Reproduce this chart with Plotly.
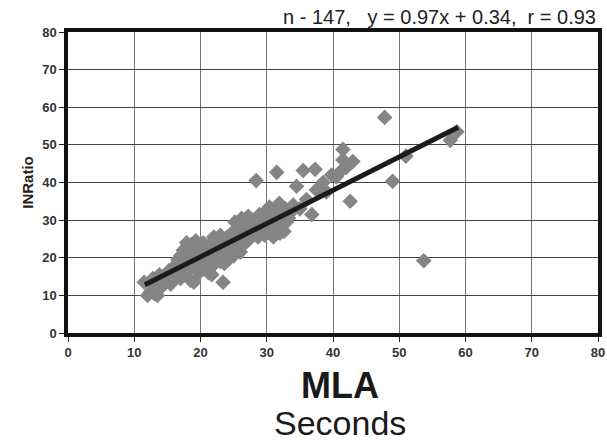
import plotly.graph_objects as go

mla = [11.5, 12, 12.5, 12.8, 13, 13.2, 13.5, 13.8, 14, 14.3, 14.8, 15, 15.2, 15.5, 15.8, 16, 16.2, 16.4, 16.6, 16.8,
       17, 17, 17.2, 17.4, 17.5, 17.7, 17.9, 18, 18, 18.2, 18.4, 18.5, 18.6, 18.8, 19, 19, 19.2, 19.3, 19.5, 19.6,
       19.8, 20, 20, 20.2, 20.4, 20.5, 20.7, 20.9, 21, 21.2, 21.3, 21.5, 21.7, 21.8, 22, 22, 22.2, 22.4, 22.6, 22.8,
       23, 23, 23.2, 23.4, 23.5, 23.6, 23.8, 24, 24, 24.2, 24.4, 24.5, 24.7, 25, 25, 25.2, 25.3, 25.5, 25.7, 25.9,
       26, 26, 26.2, 26.4, 26.6, 26.8, 27, 27, 27.2, 27.4, 27.6, 27.8, 28, 28.2, 28.4, 28.5, 28.7, 28.9, 29.1, 29.3,
       29.5, 29.7, 29.9, 30, 30.2, 30.4, 30.6, 30.8, 31, 31, 31.2, 31.5, 31.5, 31.7, 31.9, 32, 32.2, 32.4, 32.6, 32.8,
       33, 33.3, 33.6, 34, 34.5, 35, 35.5, 36, 36.8, 37.3, 37.5, 38, 38.5, 39, 39.8, 40.5, 41, 41.5, 41.5, 42,
       42.6, 43, 47.8, 49, 51, 53.7, 57.7, 58.7]
inratio = [13.5, 10, 11, 14.5, 10.5, 12.5, 10, 15.5, 12, 13.5, 15, 14, 16.5, 13, 17, 15, 18, 15, 19.5, 16,
           20.5, 14.5, 17.5, 22, 15.5, 19, 24, 16.5, 20, 22.5, 18, 14, 23.5, 19.5, 13.5, 21, 17, 24.5, 22, 18.5,
           16, 20, 23, 19, 24, 17.5, 21.5, 18, 22.5, 16, 20.5, 23.5, 15.5, 19.5, 25.5, 21, 18.5, 22.5, 20, 24,
           19, 26, 21.5, 13.5, 23, 18.5, 20.5, 25.5, 22, 19.5, 23.5, 21, 26.5, 24, 20.5, 29.5, 22.5, 27, 25, 23,
           28, 21.5, 30.5, 25.5, 27.5, 24, 29, 26.5, 31, 25, 28.5, 30, 26, 27.5, 40.5, 29.5, 25.5, 31.5, 27, 28.5,
           30.5, 26, 32.5, 28, 29.5, 33.5, 27, 31, 25.5, 29, 32, 42.7, 27.5, 30.5, 34.5, 26.5, 28.5, 31.5, 27, 33,
           29.5, 30.5, 32, 34, 39, 33, 43.2, 35.5, 31.5, 43.5, 38, 38.7, 40, 37.5, 42, 41.5, 42.7, 48.8, 46, 44,
           35, 45.6, 57.3, 40.3, 47, 19.2, 51.2, 53.5]

fit_x = [11.6, 58.9]
fit_y = [12.8, 54.7]

x_ticks = [0, 10, 20, 30, 40, 50, 60, 70, 80]
y_ticks = [0, 10, 20, 30, 40, 50, 60, 70, 80]

fig = go.Figure()
fig.add_trace(go.Scatter(x=mla, y=inratio, mode="markers",
                         marker=dict(symbol="diamond", size=12, color="#858585", line=dict(width=0)),
                         showlegend=False, cliponaxis=False))
fig.add_trace(go.Scatter(x=fit_x, y=fit_y, mode="lines",
                         line=dict(color="#1c1a1a", width=5), showlegend=False))

axis_common = dict(range=[0, 80], showgrid=True, gridwidth=1,
                   showline=True, linecolor="#111", linewidth=3.5, mirror=True,
                   ticks="outside", ticklen=5, tickcolor="#222", tickwidth=1,
                   zeroline=False, automargin=False,
                   tickfont=dict(family="Liberation Sans, Arial, sans-serif", size=13, color="#333", weight="bold"))

fig.update_xaxes(tickvals=x_ticks, gridcolor="#777", **axis_common)
fig.update_yaxes(tickvals=y_ticks, gridcolor="#444", **axis_common)
fig.update_yaxes(title=dict(text="INRatio", standoff=6,
                            font=dict(family="Liberation Sans, Arial, sans-serif", size=15, color="#222", weight="bold")))

fig.add_annotation(text="n - 147,\u00a0\u00a0\u00a0y = 0.97x + 0.34,\u00a0\u00a0r = 0.93",
                   xref="paper", yref="paper", x=1, y=1.005, xanchor="right", yanchor="bottom",
                   showarrow=False,
                   font=dict(family="Liberation Sans, Arial, sans-serif", size=20, color="#222"))
fig.add_annotation(text="<b>MLA</b>", xref="paper", yref="paper", x=0.513, y=-0.173,
                   xanchor="center", yanchor="middle", showarrow=False,
                   font=dict(family="Liberation Sans, Arial, sans-serif", size=36, color="#1a1a1a"))
fig.add_annotation(text="Seconds", xref="paper", yref="paper", x=0.513, y=-0.3,
                   xanchor="center", yanchor="middle", showarrow=False,
                   font=dict(family="Liberation Sans, Arial, sans-serif", size=34, color="#1a1a1a"))

fig.update_layout(width=607, height=442, margin=dict(l=68, r=9, t=32, b=109, autoexpand=False),
                  plot_bgcolor="white", paper_bgcolor="white")

fig.write_html("out.html", config={"displayModeBar": False},
               post_script="document.body.style.margin='0';document.body.style.overflow='hidden';")
